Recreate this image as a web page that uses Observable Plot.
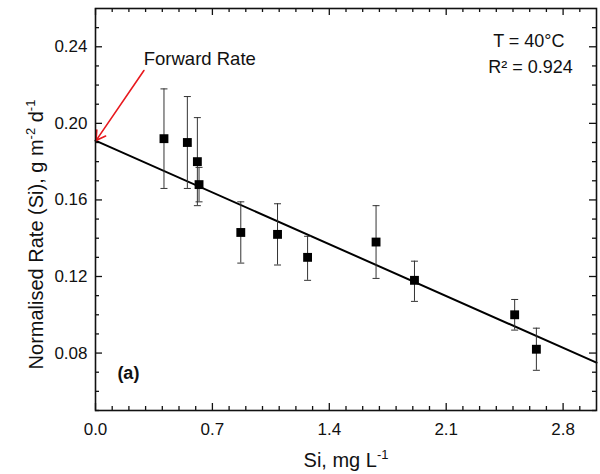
<!DOCTYPE html>
<html><head><meta charset="utf-8">
<script src="https://cdn.jsdelivr.net/npm/d3@7"></script>
<script src="https://cdn.jsdelivr.net/npm/@observablehq/plot@0.6"></script>
<style>body{margin:0;background:#fff}</style>
</head><body><div id="chart"></div>
<script>
// ---- data ----
const siConc  = [0.41, 0.55, 0.61, 0.62, 0.87, 1.09, 1.27, 1.68, 1.91, 2.51, 2.64];
const rate    = [0.192, 0.190, 0.180, 0.168, 0.143, 0.142, 0.130, 0.138, 0.118, 0.100, 0.082];
const rateHi  = [0.218, 0.214, 0.203, 0.177, 0.159, 0.158, 0.141, 0.157, 0.128, 0.108, 0.093];
const rateLo  = [0.166, 0.166, 0.157, 0.159, 0.127, 0.126, 0.118, 0.119, 0.107, 0.092, 0.071];
const fitX    = [0.0, 3.0];
const fitY    = [0.191, 0.075];
const xTicks  = [0.0, 0.7, 1.4, 2.1, 2.8];
const xMinor  = [0.1,0.2,0.3,0.4,0.5,0.6,0.8,0.9,1.0,1.1,1.2,1.3,1.5,1.6,1.7,1.8,1.9,2.0,2.2,2.3,2.4,2.5,2.6,2.7,2.9];
const yTicks  = [0.08, 0.12, 0.16, 0.20, 0.24];
const yMinor  = [0.05,0.06,0.07,0.09,0.10,0.11,0.13,0.14,0.15,0.17,0.18,0.19,0.21,0.22,0.23,0.25];
const arrowFrom = [0.29, 0.2276];
const arrowTo   = [0.003, 0.191];
const xTitle = "Si, mg L^-1";
const yTitle = "Normalised Rate (Si), g m^-2 d^-1";

const points = siConc.map((x, i) => ({x, y: rate[i], hi: rateHi[i], lo: rateLo[i]}));
const fit = fitX.map((x, i) => ({x, y: fitY[i]}));

const W = 600, Hh = 474, mL = 95, mR = 4, mT = 8, mB = 64;
const fw = W - mL - mR, fh = Hh - mT - mB;
const font = "'Liberation Sans', Arial, Helvetica, sans-serif";
const capSymbol = {draw(ctx, size) { const r = Math.sqrt(size / Math.PI); ctx.moveTo(-r, 0); ctx.lineTo(r, 0); }};

const plot = Plot.plot({
  width: W, height: Hh,
  marginLeft: mL, marginRight: mR, marginTop: mT, marginBottom: mB,
  style: {fontFamily: font, color: "#111", background: "#fff"},
  x: {domain: [0, 3.0]},
  y: {domain: [0.05, 0.26]},
  marks: [
    // inward ticks on all four sides
    Plot.tickX(xMinor, {x: d => d, insetTop: fh - 4, stroke: "#111", strokeWidth: 1.3}),
    Plot.tickX(xTicks, {x: d => d, insetTop: fh - 7, stroke: "#111", strokeWidth: 1.3}),
    Plot.tickX(xMinor, {x: d => d, insetBottom: fh - 4, stroke: "#111", strokeWidth: 1.3}),
    Plot.tickX(xTicks, {x: d => d, insetBottom: fh - 7, stroke: "#111", strokeWidth: 1.3}),
    Plot.tickY(yMinor, {y: d => d, insetRight: fw - 4, stroke: "#111", strokeWidth: 1.3}),
    Plot.tickY(yTicks, {y: d => d, insetRight: fw - 7, stroke: "#111", strokeWidth: 1.3}),
    Plot.tickY(yMinor, {y: d => d, insetLeft: fw - 4, stroke: "#111", strokeWidth: 1.3}),
    Plot.tickY(yTicks, {y: d => d, insetLeft: fw - 7, stroke: "#111", strokeWidth: 1.3}),
    Plot.axisX(xTicks, {tickSize: 0, tickPadding: 12, tickFormat: d => d.toFixed(1), fontSize: 17, label: null}),
    Plot.axisY(yTicks, {tickSize: 0, tickPadding: 8, tickFormat: d => d.toFixed(2), fontSize: 17, label: null}),
    // fit line
    Plot.line(fit, {x: "x", y: "y", stroke: "#000", strokeWidth: 2}),
    // error bars
    Plot.ruleX(points, {x: "x", y1: "lo", y2: "hi", stroke: "#333", strokeWidth: 1}),
    Plot.dot(points, {x: "x", y: "hi", symbol: capSymbol, r: 3.5, stroke: "#333", fill: "none", strokeWidth: 1}),
    Plot.dot(points, {x: "x", y: "lo", symbol: capSymbol, r: 3.5, stroke: "#333", fill: "none", strokeWidth: 1}),
    // data squares
    Plot.dot(points, {x: "x", y: "y", symbol: "square", r: 5, fill: "#000", stroke: "none"}),
    // annotation arrow
    Plot.arrow([0], {x1: () => arrowFrom[0], y1: () => arrowFrom[1], x2: () => arrowTo[0], y2: () => arrowTo[1],
      stroke: "#e8191e", strokeWidth: 1.6, headLength: 10, insetEnd: 0, insetStart: 0}),
    Plot.text(["Forward Rate"], {x: () => 0.289, y: () => 0.2337, textAnchor: "start", fontSize: 18.5, fill: "#111"}),
    Plot.text(["T = 40°C"], {x: () => 2.595, y: () => 0.2428, fontSize: 18, fill: "#111"}),
    Plot.text(["R² = 0.924"], {x: () => 2.605, y: () => 0.2293, fontSize: 18, fill: "#111"}),
    Plot.text(["(a)"], {x: () => 0.131, y: () => 0.0693, textAnchor: "start", fontSize: 18, fontWeight: "bold", fill: "#111"}),
    // axis titles
    Plot.text([xTitle], {frameAnchor: "bottom", dy: 50, fontSize: 20, textAnchor: "middle", lineAnchor: "middle", fill: "#111"}),
    Plot.text([yTitle], {frameAnchor: "left", rotate: -90, dx: -59, dy: 25, fontSize: 20, textAnchor: "middle", lineAnchor: "middle", fill: "#111"}),
    Plot.frame({stroke: "#111", strokeWidth: 1.6})
  ]
});

// superscripts in axis titles
function supify(label) {
  d3.select(plot).selectAll("text").filter(function() { return this.textContent === label; }).each(function() {
    const t = d3.select(this);
    t.text(null);
    const parts = label.split(/\^(-?\d+)/);
    let sup = false;
    parts.forEach((p, i) => {
      if (i % 2 === 0) {
        if (!p) return;
        t.append("tspan").attr("dy", sup ? 8 : null).text(p);
        sup = false;
      } else {
        t.append("tspan").attr("dy", -8).attr("font-size", 13).text(p);
        sup = true;
      }
    });
  });
}
supify(xTitle);
supify(yTitle);

document.getElementById("chart").appendChild(plot);
</script></body></html>
